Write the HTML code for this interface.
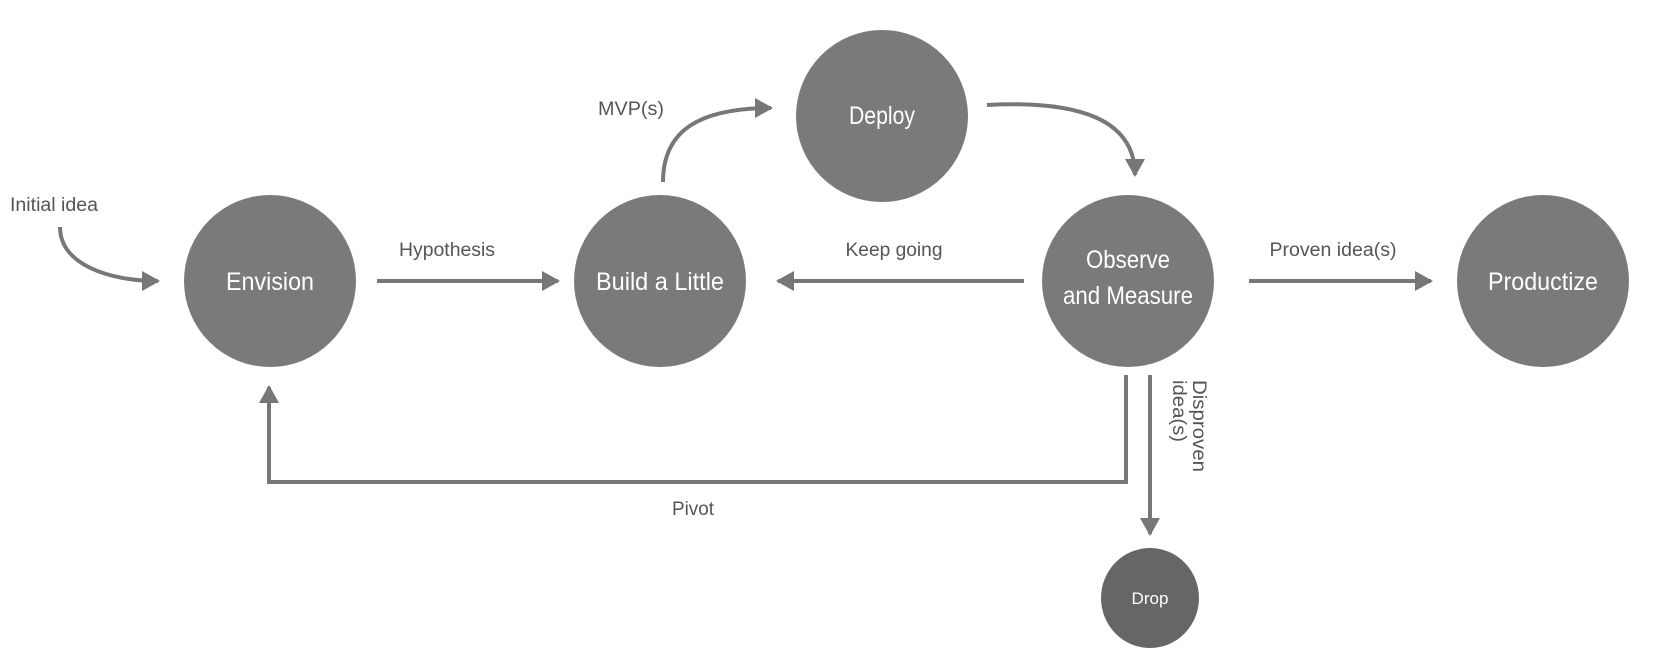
<!DOCTYPE html>
<html><head><meta charset="utf-8"><style>
html,body{margin:0;padding:0;background:#fff;}
svg{display:block;}
text{font-family:"Liberation Sans Narrow","Liberation Sans",sans-serif;}
</style></head><body>
<svg width="1656" height="656" viewBox="0 0 1656 656" xmlns="http://www.w3.org/2000/svg">
<defs>
<marker id="ah" markerWidth="6" markerHeight="6" refX="4" refY="2.5" orient="auto" markerUnits="strokeWidth">
<path d="M0,0 L4.5,2.5 L0,5 Z" fill="#777"/>
</marker>
</defs>
<g fill="#7a7a7a">
<circle cx="270" cy="281" r="86"/>
<circle cx="660" cy="281" r="86"/>
<circle cx="882" cy="116" r="86"/>
<circle cx="1128" cy="281" r="86"/>
<circle cx="1543" cy="281" r="86"/>
</g>
<ellipse cx="1150" cy="598" rx="49" ry="50" fill="#666"/>
<g fill="#fff" font-size="25" text-anchor="middle" lengthAdjust="spacingAndGlyphs">
<text x="270" y="290" textLength="88" lengthAdjust="spacingAndGlyphs">Envision</text>
<text x="660" y="290" textLength="128" lengthAdjust="spacingAndGlyphs">Build a Little</text>
<text x="882" y="124" textLength="66" lengthAdjust="spacingAndGlyphs">Deploy</text>
<text x="1128" y="268" textLength="84" lengthAdjust="spacingAndGlyphs">Observe</text>
<text x="1128" y="304" textLength="130" lengthAdjust="spacingAndGlyphs">and Measure</text>
<text x="1543" y="290" textLength="110" lengthAdjust="spacingAndGlyphs">Productize</text>
<text x="1150" y="604" font-size="17" textLength="37" lengthAdjust="spacingAndGlyphs">Drop</text>
</g>
<g stroke="#777" stroke-width="4" fill="none" marker-end="url(#ah)">
<path d="M60,227 C60,265 110,281 158,281"/>
<path d="M377,281 L558,281"/>
<path d="M1024,281 L778,281"/>
<path d="M1249,281 L1431,281"/>
<path d="M663,182 C663,130 700,108 771,108"/>
<path d="M987,105 C1080,100 1135,120 1135,175"/>
<path d="M1126,375 L1126,482 L269,482 L269,387"/>
<path d="M1150,375 L1150,534"/>
</g>
<g fill="#555" font-size="19" text-anchor="middle">
<text x="54" y="211" textLength="88" lengthAdjust="spacingAndGlyphs">Initial idea</text>
<text x="447" y="256" textLength="96" lengthAdjust="spacingAndGlyphs">Hypothesis</text>
<text x="894" y="256" textLength="97" lengthAdjust="spacingAndGlyphs">Keep going</text>
<text x="1333" y="256" textLength="127" lengthAdjust="spacingAndGlyphs">Proven idea(s)</text>
<text x="631" y="115" textLength="66" lengthAdjust="spacingAndGlyphs">MVP(s)</text>
<text x="693" y="515" textLength="42" lengthAdjust="spacingAndGlyphs">Pivot</text>
<text transform="translate(1193,380) rotate(90)" text-anchor="start" textLength="92" lengthAdjust="spacingAndGlyphs">Disproven</text>
<text transform="translate(1173,380) rotate(90)" text-anchor="start" textLength="62" lengthAdjust="spacingAndGlyphs">idea(s)</text>
</g>
</svg>
</body></html>
